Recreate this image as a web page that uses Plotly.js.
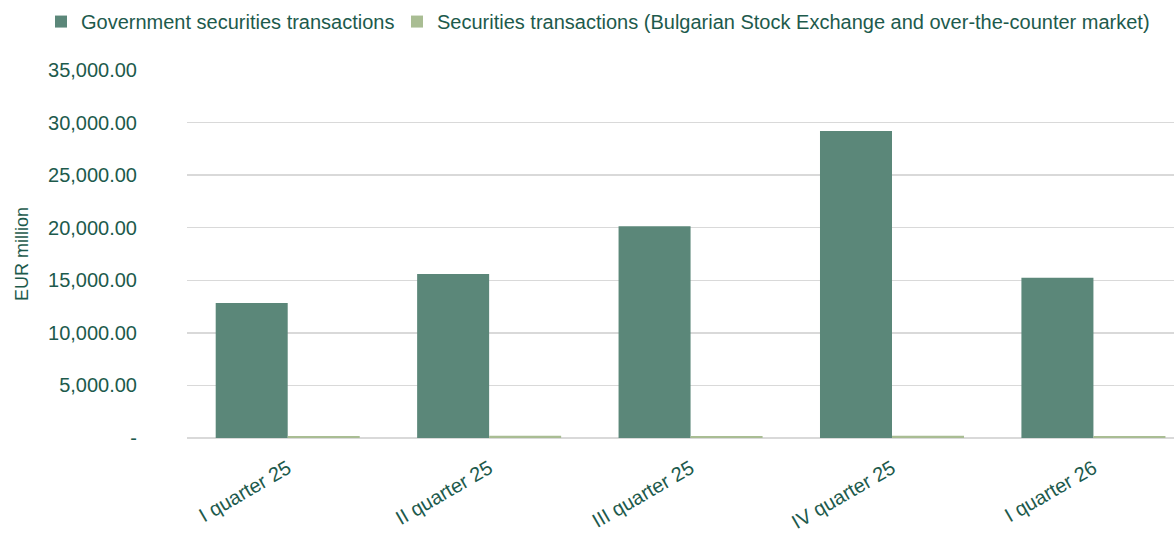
<!DOCTYPE html>
<html>
<head>
<meta charset="utf-8">
<script src="https://cdn.plot.ly/plotly-3.0.1.min.js"></script>
<style>html,body{margin:0;padding:0;background:#fff;}#chart{width:1174px;height:539px;}</style>
</head>
<body>
<div id="chart"></div>
<script>
const categories = ["I quarter 25", "II quarter 25", "III quarter 25", "IV quarter 25", "I quarter 26"];
const governmentSecurities = [12850, 15600, 20150, 29200, 15250];
const otherSecurities = [190, 210, 200, 220, 190];
const seriesNames = ["Government securities transactions", "Securities transactions (Bulgarian Stock Exchange and over-the-counter market)"];
const yTickVals = [0, 5000, 10000, 15000, 20000, 25000, 30000, 35000];
const yTickText = ["-", "5,000.00", "10,000.00", "15,000.00", "20,000.00", "25,000.00", "30,000.00", "35,000.00"];

const FONT = '"Liberation Sans Narrow", "Arial Narrow", "Liberation Sans", Arial, sans-serif';
const TXT = '#1d5a4c';

const data = [
  {type: 'bar', name: seriesNames[0], x: categories, y: governmentSecurities, marker: {color: '#5b8779'}, legend: 'legend'},
  {type: 'bar', name: seriesNames[1], x: categories, y: otherSecurities, marker: {color: '#a9bd93'}, legend: 'legend2'}
];
const legendBase = {orientation: 'h', xanchor: 'left', xref: 'container', yref: 'container', y: 0.96, yanchor: 'middle',
  font: {size: 20, family: FONT, color: TXT}, itemwidth: 30, bgcolor: 'rgba(0,0,0,0)'};
const layout = {
  width: 1174, height: 539,
  margin: {l: 187, r: 0, t: 70, b: 100.5, pad: 0},
  paper_bgcolor: '#fff', plot_bgcolor: '#fff',
  barmode: 'group', bargap: 0.285, bargroupgap: 0,
  font: {family: FONT, color: TXT, size: 18},
  showlegend: true,
  legend: Object.assign({}, legendBase, {x: 41 / 1174}),
  legend2: Object.assign({}, legendBase, {x: 397 / 1174}),
  xaxis: {range: [-0.5, 4.4], tickangle: -30, showgrid: false, showline: false, ticks: '', ticklabelstandoff: 14,
    tickfont: {size: 20, family: FONT, color: TXT}},
  yaxis: {range: [0, 35000], tickvals: yTickVals, ticktext: yTickText, showgrid: true, gridcolor: '#d9d9d9', gridwidth: 1.5,
    zeroline: true, zerolinecolor: '#d9d9d9', zerolinewidth: 2, ticks: '', ticklabelstandoff: 49,
    tickfont: {size: 20, family: FONT, color: TXT},
    title: {text: 'EUR million', font: {size: 18, family: FONT, color: TXT}, standoff: 14}}
};
Plotly.newPlot('chart', data, layout, {displayModeBar: false, staticPlot: true});
</script>
</body>
</html>
